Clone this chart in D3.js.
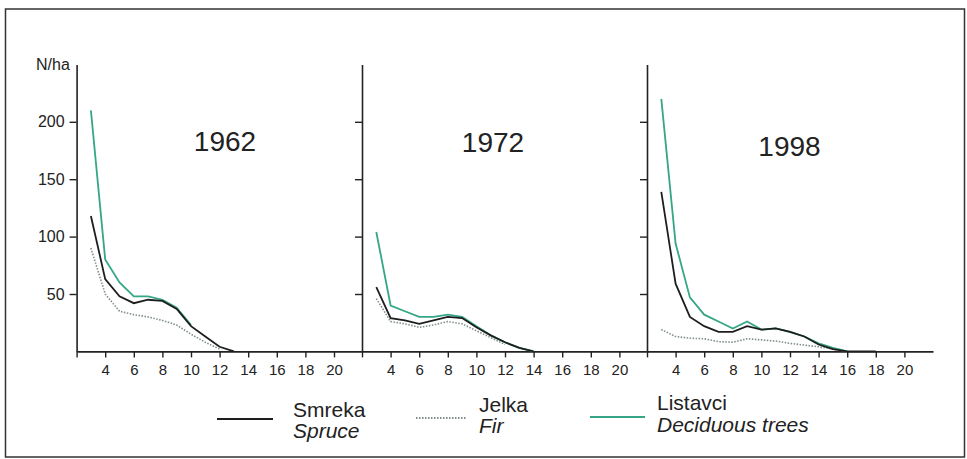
<!DOCTYPE html>
<html>
<head>
<meta charset="utf-8">
<script src="https://cdn.jsdelivr.net/npm/d3@7"></script>
<style>
  html, body { margin: 0; padding: 0; background: #fff; }
  svg { display: block; font-family: "Liberation Sans", Arial, sans-serif; }
</style>
</head>
<body>
<svg id="chart" width="967" height="459"></svg>
<script>
// ---------- data ----------
const diameterClasses = [3, 4, 5, 6, 7, 8, 9, 10, 11, 12, 13, 14, 15, 16, 17, 18];
const years = ["1962", "1972", "1998"];
const xTickValues = [2, 4, 6, 8, 10, 12, 14, 16, 18, 20];
const yTickValues = [50, 100, 150, 200];
const yAxisLabel = "N/ha";

// Smreka / Spruce
const spruce1962 = [118, 63, 48, 42, 45, 44, 37, 22, 13, 4, 0];
const spruce1972 = [56, 29, 27, 24, 27, 30, 29, 21, 14, 8, 3, 0];
const spruce1998 = [139, 59, 30, 22, 17, 17, 22, 19, 20, 17, 13, 6, 2, 0, 0, 0];
// Jelka / Fir
const fir1962 = [90, 50, 35, 32, 30, 27, 23, 15, 8, 2];
const fir1972 = [46, 26, 24, 21, 23, 26, 24, 18, 12, 6];
const fir1998 = [19, 13, 11.5, 11, 8.5, 8, 11, 10, 9, 7, 5.5, 4, 2, 0];
// Listavci / Deciduous trees
const decid1962 = [210, 80, 60, 48, 48, 45, 38, 23];
const decid1972 = [104, 40, 35, 30, 30, 32, 30, 22, 14, 8, 3, 0];
const decid1998 = [220, 94, 47, 32, 26, 20, 26, 19, 20, 17, 13, 7, 3, 0];

const legendNames = [["Smreka", "Spruce"], ["Jelka", "Fir"], ["Listavci", "Deciduous trees"]];

// ---------- layout ----------
const svg = d3.select("#chart");
const ink = "#222";
const colors = { spruce: "#1e1e1e", fir: "#7f8f86", decid: "#35a687" };
const panelLeft = [76.6, 362, 647];
const panelWidth = 286;
const yTop = 64.4, yBottom = 351.4;
const yearPos = [[225, 151], [493, 152], [789.5, 156]];

const seriesByYear = [
  { spruce: spruce1962, fir: fir1962, decid: decid1962 },
  { spruce: spruce1972, fir: fir1972, decid: decid1972 },
  { spruce: spruce1998, fir: fir1998, decid: decid1998 }
];

// outer frame
svg.append("rect")
  .attr("x", 5.5).attr("y", 9).attr("width", 959).attr("height", 448)
  .attr("fill", "none").attr("stroke", "#333").attr("stroke-width", 1.5);

const y = d3.scaleLinear().domain([0, 250]).range([yBottom, yTop]);

years.forEach((yr, i) => {
  const x = d3.scaleLinear().domain([2, 22]).range([panelLeft[i], panelLeft[i] + panelWidth]);
  const g = svg.append("g");

  // x axis
  const xa = g.append("g")
    .attr("transform", `translate(0,${yBottom})`)
    .call(d3.axisBottom(x).tickValues(xTickValues)
      .tickFormat(d => d === 2 ? "" : d)
      .tickSize(6).tickSizeOuter(0).tickPadding(7));
  xa.selectAll("text").attr("font-size", 15).attr("fill", ink)
    .attr("font-family", "'Liberation Sans', Arial, sans-serif");

  // y axis
  const ya = g.append("g")
    .attr("transform", `translate(${panelLeft[i]},0)`)
    .call(d3.axisLeft(y).tickValues(yTickValues)
      .tickFormat(d => i === 0 ? d : "")
      .tickSize(7).tickSizeOuter(0).tickPadding(5));
  ya.selectAll("text").attr("font-size", 16).attr("fill", ink)
    .attr("font-family", "'Liberation Sans', Arial, sans-serif");

  [xa, ya].forEach(a => {
    a.select(".domain").attr("stroke", ink).attr("stroke-width", 1.6);
    a.selectAll(".tick line").attr("stroke", ink).attr("stroke-width", 1.4);
  });

  // year label
  g.append("text")
    .attr("x", yearPos[i][0]).attr("y", yearPos[i][1])
    .attr("text-anchor", "middle").attr("font-size", 28).attr("fill", ink)
    .text(yr);

  // lines
  const line = d3.line()
    .x((d, k) => x(diameterClasses[k]))
    .y(d => y(d))
    .curve(d3.curveLinear);

  const s = seriesByYear[i];
  g.append("path").datum(s.fir).attr("d", line)
    .attr("fill", "none").attr("stroke", colors.fir).attr("stroke-width", 1.6)
    .attr("stroke-dasharray", "1.5,1.5");
  g.append("path").datum(s.decid).attr("d", line)
    .attr("fill", "none").attr("stroke", colors.decid).attr("stroke-width", 1.8);
  g.append("path").datum(s.spruce).attr("d", line)
    .attr("fill", "none").attr("stroke", colors.spruce).attr("stroke-width", 1.8);
});

// N/ha label
svg.append("text").attr("x", 36).attr("y", 70)
  .attr("font-size", 16).attr("fill", ink).text(yAxisLabel);

// legend
const legendItems = [
  { key: "spruce", x1: 217, x2: 273, ly: 419, tx: 293, t1: 417, t2: 438, dash: null },
  { key: "fir", x1: 416, x2: 467, ly: 418, tx: 479, t1: 412, t2: 433, dash: "1.5,1.5" },
  { key: "decid", x1: 590, x2: 645, ly: 417, tx: 657, t1: 410, t2: 432, dash: null }
];
legendItems.forEach((it, i) => {
  svg.append("line")
    .attr("x1", it.x1).attr("x2", it.x2).attr("y1", it.ly).attr("y2", it.ly)
    .attr("stroke", colors[it.key]).attr("stroke-width", 2)
    .attr("stroke-dasharray", it.dash);
  svg.append("text").attr("x", it.tx).attr("y", it.t1)
    .attr("font-size", 21).attr("fill", ink).text(legendNames[i][0]);
  svg.append("text").attr("x", it.tx).attr("y", it.t2)
    .attr("font-size", 21).attr("font-style", "italic").attr("fill", ink).text(legendNames[i][1]);
});
</script>
</body>
</html>
